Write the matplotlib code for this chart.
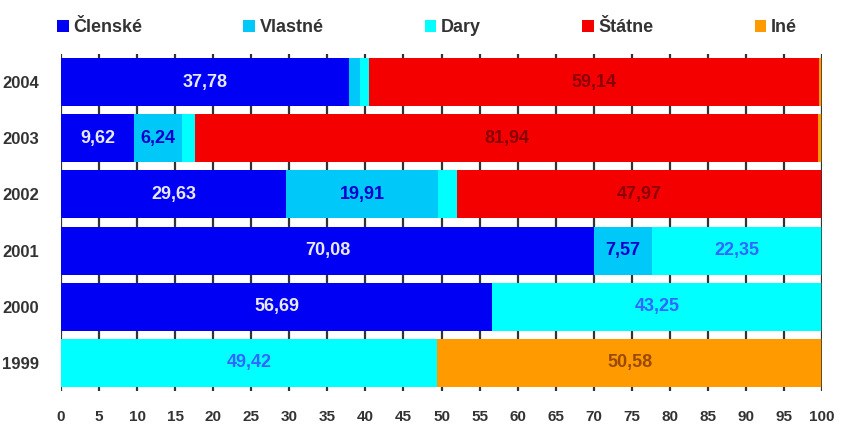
import matplotlib.pyplot as plt
import numpy as np

years = ["2004", "2003", "2002", "2001", "2000", "1999"]
categories = ["Členské", "Vlastné", "Dary", "Štátne", "Iné"]

clenske = [37.78, 9.62, 29.63, 70.08, 56.69, 0]
vlastne = [1.55, 6.24, 19.91, 7.57, 0, 0]
dary = [1.13, 1.70, 2.49, 22.35, 43.25, 49.42]
statne = [59.14, 81.94, 47.97, 0, 0, 0]
ine = [0.40, 0.50, 0, 0, 0.06, 50.58]

colors = ["#0000F5", "#00C8F8", "#00FFFF", "#F50000", "#FF9A00"]
label_colors = ["#E8E8FF", "#0000CC", "#3366FF", "#8B0000", "#9A4A00"]

plt.rcParams["font.family"] = ["Liberation Sans", "DejaVu Sans"]

fig = plt.figure(figsize=(8.45, 4.41), dpi=100)
ax = fig.add_axes([61 / 845, 1 - 391 / 441, 761 / 845, 337 / 441])

y = np.arange(len(years))[::-1]
left = np.zeros(len(years))
series = [clenske, vlastne, dary, statne, ine]
for name, vals, col, lcol in zip(categories, series, colors, label_colors):
    vals = np.array(vals)
    ax.barh(y, vals, left=left, height=0.855, color=col, label=name, zorder=2)
    for yi, l, v in zip(y, left, vals):
        if v >= 5:
            ax.text(l + v / 2, yi, f"{v:.2f}".replace(".", ","), ha="center",
                    va="center", color=lcol, fontsize=13, fontweight="bold", zorder=3)
    left += vals

ax.set_xlim(0, 100)
ax.set_ylim(-0.5, 5.5)
ax.set_xticks(range(0, 101, 5))
ax.set_yticks(y)
ax.set_yticklabels(years)
for s in ax.spines.values():
    s.set_visible(False)
ax.tick_params(length=0, labelsize=11, labelcolor="#333333")
ax.tick_params(axis="x", pad=14)
ax.tick_params(axis="y", pad=16, labelsize=12)
for t in ax.get_xticklabels() + ax.get_yticklabels():
    t.set_fontweight("bold")
ax.grid(axis="x", color="#333333", linewidth=1.6, zorder=1)
ax.set_axisbelow(True)
ax.axvline(100, color="#333333", linewidth=1.8, zorder=4)

fig.legend(loc="center left", bbox_to_anchor=(57 / 845, 1 - 28 / 441), ncol=5,
           frameon=False, borderpad=0, borderaxespad=0, handlelength=0.65,
           handleheight=0.65, handletextpad=0.25, columnspacing=5.6,
           prop={"size": 13, "weight": "bold"}, labelcolor="#333333")

fig.savefig("out.png", dpi=100, facecolor="white")
